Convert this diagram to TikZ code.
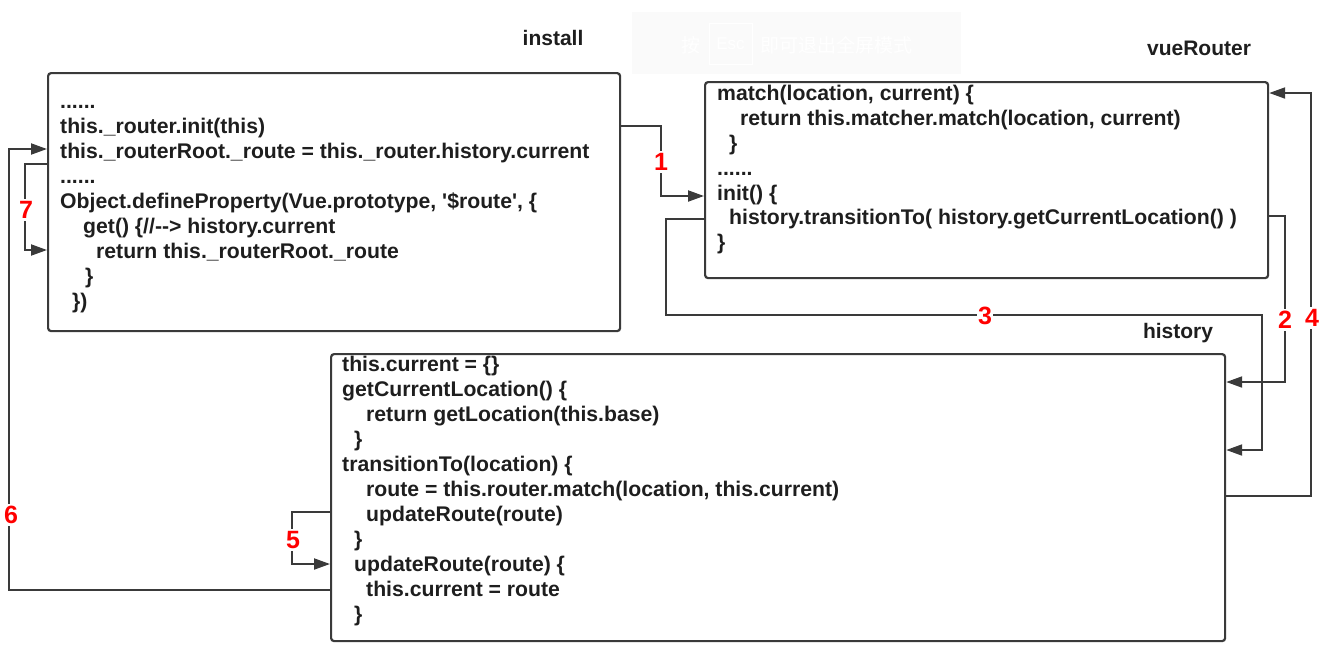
\documentclass[tikz,border=0pt]{standalone}
\usepackage{fontspec}
\setmainfont{Liberation Sans}
\newfontfamily\cjkfont{Noto Sans CJK SC}
\usetikzlibrary{arrows.meta}
\definecolor{linecol}{HTML}{3A3A3A}
\definecolor{textcol}{HTML}{1E1E1E}
\definecolor{numred}{HTML}{FF0000}
\definecolor{overlaybg}{HTML}{FAFAFA}
\begin{document}
\begin{tikzpicture}[x=1pt,y=-1pt,
  box/.style={draw=linecol, line width=2.2pt, rounded corners=3pt, anchor=north west, inner sep=0pt},
  conn/.style={draw=linecol, line width=2pt, -{Triangle[length=16pt,width=11pt]}},
  num/.style={text=numred, font=\bfseries\fontsize{25}{25}\selectfont, fill=white, inner xsep=1pt, inner ysep=2pt},
  code/.style={text=textcol, font=\bfseries\fontsize{21.2}{24}\selectfont, anchor=base west, inner sep=0pt},
  title/.style={text=textcol, font=\bfseries\fontsize{21}{24}\selectfont, inner sep=0pt},
  overlaytext/.style={text=white, font=\cjkfont\fontsize{19}{19}\selectfont, inner sep=0pt}
]
\useasboundingbox (0,0) rectangle (1338,662);

% faint screen overlay
\node[fill=overlaybg, minimum width=329pt, minimum height=62pt, anchor=north west, inner sep=0pt] (ovl) at (632,12) {};
\node[overlaytext] (ovl1) at (691,45) {按};
\node[draw=white, line width=0.8pt, minimum width=43pt, minimum height=41pt, inner sep=0pt, text=white, font=\fontsize{17}{17}\selectfont] (ovl2) at (730.5,43.5) {Esc};
\node[overlaytext, anchor=west] (ovl3) at (760,45) {即可退出全屏模式};

% boxes
\node[box, minimum width=572pt, minimum height=258pt] (install) at (47,72) {};
\node[box, minimum width=563pt, minimum height=196pt] (vue) at (704,81) {};
\node[box, minimum width=894pt, minimum height=287pt] (hist) at (330,353) {};

% titles
\node[title] (tinstall) at (553,38) {install};
\node[title] (tvue) at (1199,48) {vueRouter};
\node[title] (thist) at (1178,333) {history};

% install code
\node[code] (i1) at (60,108) {......};
\node[code] (i2) at (60,133) {this.\_router.init(this)};
\node[code] (i3) at (60,158) {this.\_routerRoot.\_route = this.\_router.history.current};
\node[code] (i4) at (60,183) {......};
\node[code] (i5) at (60,208) {Object.defineProperty(Vue.prototype, \textquotesingle\$route\textquotesingle, \{};
\node[code] (i6) at (83,233) {get() \{//-{}-> history.current};
\node[code] (i7) at (96,258) {return this.\_routerRoot.\_route};
\node[code] (i8) at (85,283) {\}};
\node[code] (i9) at (72,308) {\})};

% vueRouter code
\node[code] (v1) at (717,100) {match(location, current) \{};
\node[code] (v2) at (740,125) {return this.matcher.match(location, current)};
\node[code] (v3) at (729,150) {\}};
\node[code] (v4) at (717,175) {......};
\node[code] (v5) at (717,200) {init() \{};
\node[code] (v6) at (729,224) {history.transitionTo( history.getCurrentLocation() )};
\node[code] (v7) at (717,249) {\}};

% history code
\node[code] (h1) at (342,371) {this.current = \{\}};
\node[code] (h2) at (342,396) {getCurrentLocation() \{};
\node[code] (h3) at (366,421) {return getLocation(this.base)};
\node[code] (h4) at (354,446) {\}};
\node[code] (h5) at (342,471) {transitionTo(location) \{};
\node[code] (h6) at (366,496) {route = this.router.match(location, this.current)};
\node[code] (h7) at (366,521) {updateRoute(route)};
\node[code] (h8) at (354,546) {\}};
\node[code] (h9) at (354,571) {updateRoute(route) \{};
\node[code] (h10) at (366,596) {this.current = route};
\node[code] (h11) at (354,621) {\}};

% connector turning points
\coordinate (a1) at (661,126);
\coordinate (b1) at (661,196);
\coordinate (a2) at (1285,216);
\coordinate (b2) at (1285,382);
\coordinate (a3) at (666,219);
\coordinate (b3) at (666,315);
\coordinate (c3) at (1262,315);
\coordinate (d3) at (1262,450);
\coordinate (a4) at (1311,496);
\coordinate (b4) at (1311,93);
\coordinate (a5) at (292,512);
\coordinate (b5) at (292,564);
\coordinate (a6) at (9,590);
\coordinate (b6) at (9,149);
\coordinate (a7) at (25,164);
\coordinate (b7) at (25,250);

% connectors
\draw[conn] (install.east |- a1) -- (a1) -- (b1) -- (vue.west |- b1);
\draw[conn] (vue.east |- a2) -- (a2) -- (b2) -- (hist.east |- b2);
\draw[conn] (vue.west |- a3) -- (a3) -- (b3) -- (c3) -- (d3) -- (hist.east |- d3);
\draw[conn] (hist.east |- a4) -- (a4) -- (b4) -- (vue.east |- b4);
\draw[conn] (hist.west |- a5) -- (a5) -- (b5) -- (hist.west |- b5);
\draw[conn] (hist.west |- a6) -- (a6) -- (b6) -- (install.west |- b6);
\draw[conn] (install.west |- a7) -- (a7) -- (b7) -- (install.west |- b7);

% step numbers
\node[num] (n1) at (661,162) {1};
\node[num] (n2) at (1285,320) {2};
\node[num] (n3) at (985,316) {3};
\node[num] (n4) at (1312,318) {4};
\node[num] (n5) at (293,540) {5};
\node[num] (n6) at (11,515) {6};
\node[num] (n7) at (26,210) {7};
\end{tikzpicture}
\end{document}
